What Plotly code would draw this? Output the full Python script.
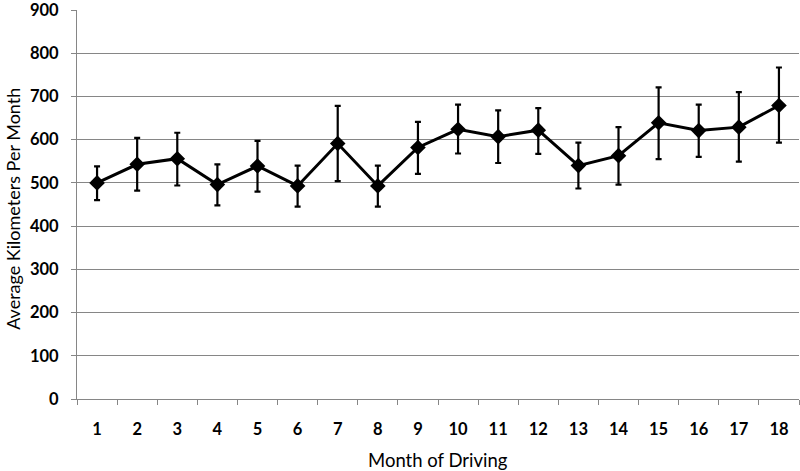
import plotly.graph_objects as go

months = list(range(1, 19))
avg_km = [500, 543, 556, 496, 539, 493, 591, 493, 582, 624, 607, 622, 540, 563, 639, 621, 629, 679]
err_hi = [538, 604, 616, 543, 597, 540, 678, 540, 641, 681, 668, 673, 593, 629, 721, 681, 710, 767]
err_lo = [460, 482, 494, 448, 480, 445, 504, 445, 521, 568, 546, 567, 487, 496, 555, 560, 549, 593]

plus = [h - v for h, v in zip(err_hi, avg_km)]
minus = [v - l for l, v in zip(err_lo, avg_km)]

fig = go.Figure()
fig.add_trace(go.Scatter(
    x=months, y=avg_km, mode="lines+markers",
    line=dict(color="black", width=3),
    marker=dict(symbol="diamond", size=12, color="black"),
    error_y=dict(type="data", symmetric=False, array=plus, arrayminus=minus,
                 color="black", thickness=2.2, width=3),
    showlegend=False,
))

font = "Lato, 'Open Sans', sans-serif"
fig.update_layout(
    width=800, height=471,
    margin=dict(l=77, r=1, t=10, b=72),
    paper_bgcolor="white", plot_bgcolor="white",
    font=dict(family=font, color="black"),
    xaxis=dict(
        range=[0.5, 18.5], tickmode="array", tickvals=months,
        ticktext=[str(m) for m in months],
        tickfont=dict(size=16.5, family=font, weight="bold"),
        ticks="", ticklabelstandoff=15,
        showline=True, linecolor="#868686", linewidth=1,
        showgrid=False, zeroline=False, automargin=False,
        minor=dict(tickmode="linear", tick0=0.5, dtick=1, ticks="outside",
                   ticklen=5, tickcolor="#868686", tickwidth=1, showgrid=False),
    ),
    yaxis=dict(
        range=[0, 900], tickmode="linear", tick0=0, dtick=100,
        tickfont=dict(size=16.5, family=font, weight="bold"),
        ticks="outside", ticklen=5, tickcolor="#868686",
        ticklabelstandoff=9, ticklabeloverflow="allow",
        showline=True, linecolor="#868686", linewidth=1,
        showgrid=True, gridcolor="#868686", gridwidth=1,
        zeroline=False, automargin=False,
    ),
    annotations=[
        dict(text="Month of Driving", xref="paper", yref="paper",
             x=0.5, y=-0.156, xanchor="center", yanchor="middle",
             showarrow=False, font=dict(size=18.5, family=font, color="black")),
        dict(text="Average Kilometers Per Month", xref="paper", yref="paper",
             x=-0.088, y=0.49, xanchor="center", yanchor="middle", textangle=-90,
             showarrow=False, font=dict(size=18, family=font, color="black")),
    ],
)

fig.write_html("out.html", config={"displayModeBar": False},
               post_script="document.body.style.margin='0';document.body.style.overflow='hidden';")
